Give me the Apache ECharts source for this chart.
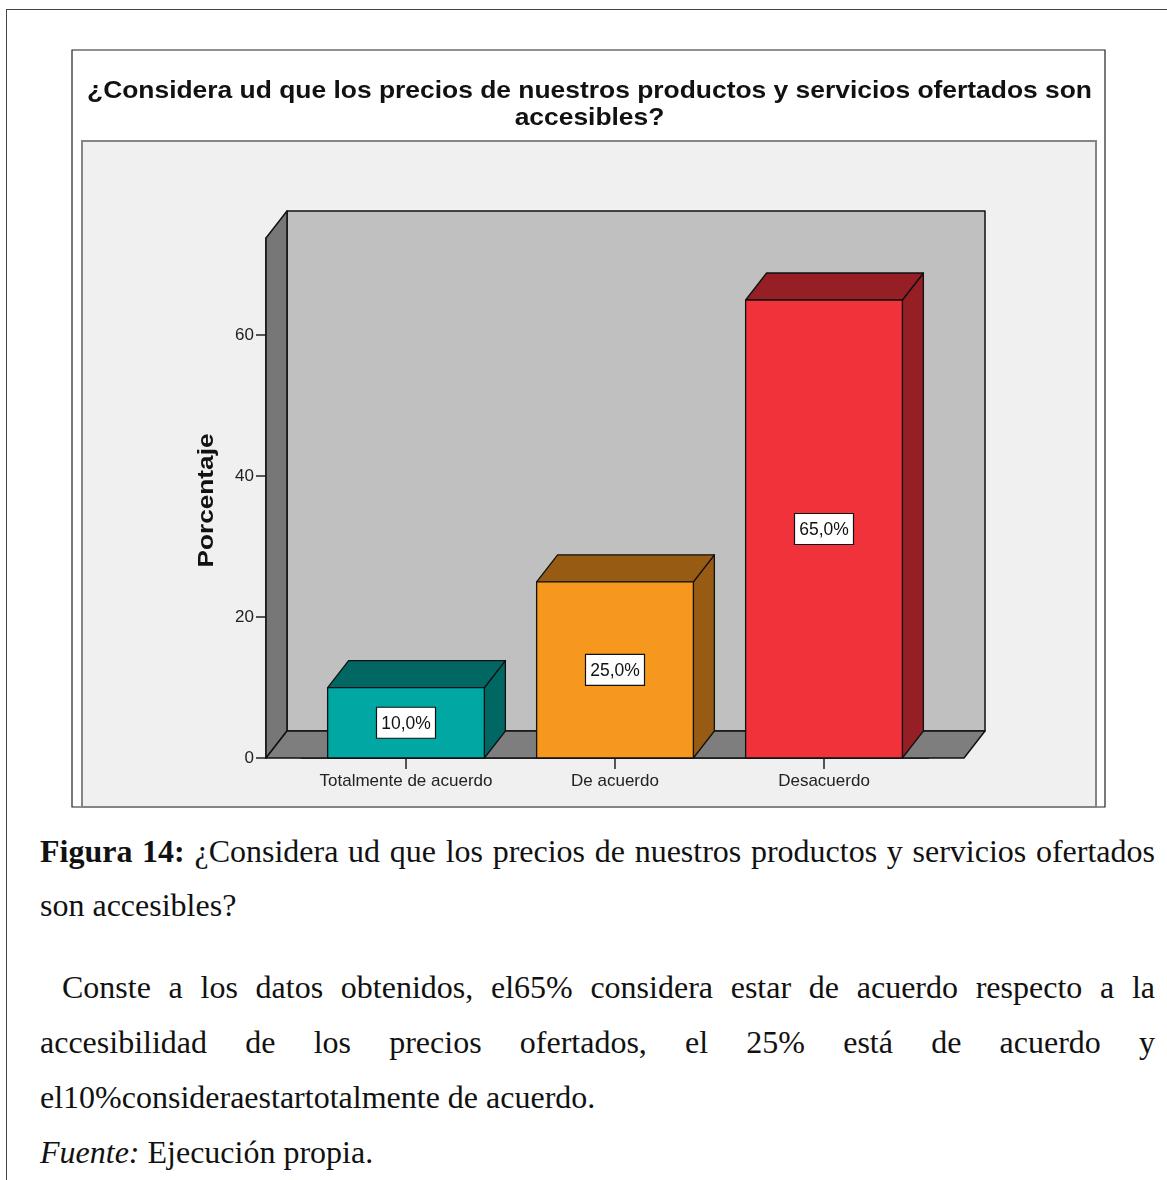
<!DOCTYPE html>
<html><head><meta charset="utf-8">
<script src="https://cdn.jsdelivr.net/npm/echarts@6/dist/echarts.min.js"></script>
<style>
html,body{margin:0;padding:0;background:#fff;width:1167px;height:1180px;overflow:hidden;}
#frame{position:absolute;left:6px;top:9px;width:1300px;height:1300px;border-left:1.5px solid #444;border-top:1.5px solid #444;}
#chart{position:absolute;left:0;top:0;width:1167px;height:815px;}
.ln{position:absolute;left:40px;font-family:'Liberation Serif','Times New Roman',serif;font-size:32px;line-height:40px;color:#111;white-space:nowrap;}
</style></head><body>
<div id="frame"></div>
<div id="chart"></div>
<div class="ln jus" data-w="1115" style="top:831px"><b>Figura 14:</b> ¿Considera ud que los precios de nuestros productos y servicios ofertados</div>
<div class="ln" style="top:885px">son accesibles?</div>
<div class="ln jus" data-w="1093" style="top:967px;left:62px">Conste a los datos obtenidos, el65% considera estar de acuerdo respecto a la</div>
<div class="ln jus" data-w="1115" style="top:1022px">accesibilidad de los precios ofertados, el 25% está de acuerdo y</div>
<div class="ln" style="top:1077px">el10%consideraestartotalmente de acuerdo.</div>
<div class="ln" style="top:1132px"><i>Fuente:</i> Ejecución propia.</div>
<script>
// ---- data ----
const categories = ['Totalmente de acuerdo', 'De acuerdo', 'Desacuerdo'];
const percentages = [10, 25, 65];
const yTickValues = [0, 20, 40, 60];
const yAxisMax = 73.8;
const titleLines = ['¿Considera ud que los precios de nuestros productos y servicios ofertados son', 'accesibles?'];
const yAxisName = 'Porcentaje';

// ---- styles ----
const frontColors = ['#00a7a3', '#f7981e', '#f0333b'];
const darkColors = ['#016763', '#975b13', '#951f24'];
const DX = 21, DY = 27, EXT = 35.5;

// justify caption lines
document.querySelectorAll('.jus').forEach(el => {
  const target = +el.dataset.w;
  const nat = el.getBoundingClientRect().width;
  const spaces = (el.textContent.match(/ /g) || []).length;
  el.style.wordSpacing = ((target - nat) / spaces) + 'px';
});

function measure(text, font) {
  const c = document.createElement('canvas').getContext('2d');
  c.font = font;
  return c.measureText(text).width;
}
const titleFont = 'bold 24px "Liberation Sans", Arial, sans-serif';
const titleScale = 1005 / measure(titleLines[0], titleFont);
const nameFont = 'bold 22px "Liberation Sans", Arial, sans-serif';
const nameScale = 134 / measure(yAxisName, nameFont);

const chart = echarts.init(document.getElementById('chart'), null, {renderer: 'canvas'});

function txt(text, x, y, font, scaleX, rotation) {
  return {
    type: 'text', x: x, y: y, scaleX: scaleX, rotation: rotation || 0, z: 10,
    style: {text: text, font: font, fill: '#111', align: 'center', verticalAlign: 'middle',
            textAlign: 'center', textVerticalAlign: 'middle'}
  };
}

const option = {
  animation: false,
  graphic: [
    {type: 'rect', shape: {x: 72, y: 50, width: 1033, height: 757}, style: {fill: '#fff', stroke: '#222', lineWidth: 1.2}, z: -10},
    {type: 'rect', shape: {x: 82, y: 141, width: 1014, height: 666}, style: {fill: '#f0f0f0', stroke: '#858585', lineWidth: 2}, z: -9},
    txt(titleLines[0], 589.5, 91, titleFont, titleScale),
    txt(titleLines[1], 589.5, 118, titleFont, titleScale),
    txt(yAxisName, 207, 500.5, nameFont, nameScale, Math.PI / 2)
  ],
  grid: {left: 301.5, right: 238.5, top: 238, bottom: 57},
  xAxis: {
    type: 'category', data: categories,
    axisLine: {show: true, lineStyle: {color: '#111', width: 1.5}},
    axisTick: {show: true, alignWithLabel: true, interval: 0, length: 11, lineStyle: {color: '#222', width: 1.5}},
    axisLabel: {interval: 0, fontSize: 17, color: '#222', margin: 15, fontFamily: '"Liberation Sans", Arial, sans-serif'},
    splitLine: {show: false}
  },
  yAxis: {
    type: 'value', min: 0, max: yAxisMax, offset: EXT,
    axisLine: {show: true, lineStyle: {color: '#111', width: 1.5}},
    axisTick: {show: true, length: 10, customValues: yTickValues, lineStyle: {color: '#222', width: 1.5}},
    axisLabel: {customValues: yTickValues, fontSize: 17, color: '#222', margin: 12, fontFamily: '"Liberation Sans", Arial, sans-serif'},
    splitLine: {show: false}
  },
  series: [
    {
      type: 'custom', z: 1, silent: true,
      data: [[0, 0]],
      renderItem: function (params, api) {
        const cs = params.coordSys;
        const fl = cs.x - EXT, fr = cs.x + cs.width + EXT;
        const top = cs.y, bot = cs.y + cs.height;
        const st = {stroke: '#111', lineWidth: 1.5, lineJoin: 'round'};
        return {
          type: 'group', children: [
            {type: 'polygon', shape: {points: [[fl + DX, top - DY], [fr + DX, top - DY], [fr + DX, bot - DY], [fl + DX, bot - DY]]}, style: Object.assign({fill: '#c0c0c0'}, st)},
            {type: 'polygon', shape: {points: [[fl, bot], [fl, top], [fl + DX, top - DY], [fl + DX, bot - DY]]}, style: Object.assign({fill: '#777777'}, st)},
            {type: 'polygon', shape: {points: [[fl, bot], [fr, bot], [fr + DX, bot - DY], [fl + DX, bot - DY]]}, style: Object.assign({fill: '#7e7e7e'}, st)}
          ]
        };
      }
    },
    {
      type: 'custom', z: 3, silent: true,
      data: percentages.map((v, i) => [i, v]),
      renderItem: function (params, api) {
        const i = api.value(0), v = api.value(1);
        const c = api.coord([i, v]);
        const b = api.coord([i, 0]);
        const bw = api.size([1, 0])[0] * 0.75;
        const xl = c[0] - bw / 2, xr = c[0] + bw / 2, yt = c[1], yb = b[1];
        const st = {stroke: '#111', lineWidth: 1.3, lineJoin: 'round'};
        const label = v.toFixed(1).replace('.', ',') + '%';
        const cy = (yt + yb) / 2;
        return {
          type: 'group', children: [
            {type: 'polygon', shape: {points: [[xr, yt], [xr + DX, yt - DY], [xr + DX, yb - DY], [xr, yb]]}, style: Object.assign({fill: darkColors[i]}, st)},
            {type: 'polygon', shape: {points: [[xl, yt], [xr, yt], [xr + DX, yt - DY], [xl + DX, yt - DY]]}, style: Object.assign({fill: darkColors[i]}, st)},
            {type: 'rect', shape: {x: xl, y: yt, width: bw, height: yb - yt}, style: Object.assign({fill: frontColors[i]}, st)},
            {type: 'rect', shape: {x: c[0] - 29.5, y: cy - 15.5, width: 59, height: 31}, style: {fill: '#fff', stroke: '#111', lineWidth: 1.2}},
            {type: 'text', x: c[0], y: cy + 1, style: {text: label, font: '17.5px "Liberation Sans", Arial, sans-serif', fill: '#111', align: 'center', verticalAlign: 'middle', textAlign: 'center', textVerticalAlign: 'middle'}}
          ]
        };
      }
    }
  ]
};
chart.setOption(option);
</script>
</body></html>
